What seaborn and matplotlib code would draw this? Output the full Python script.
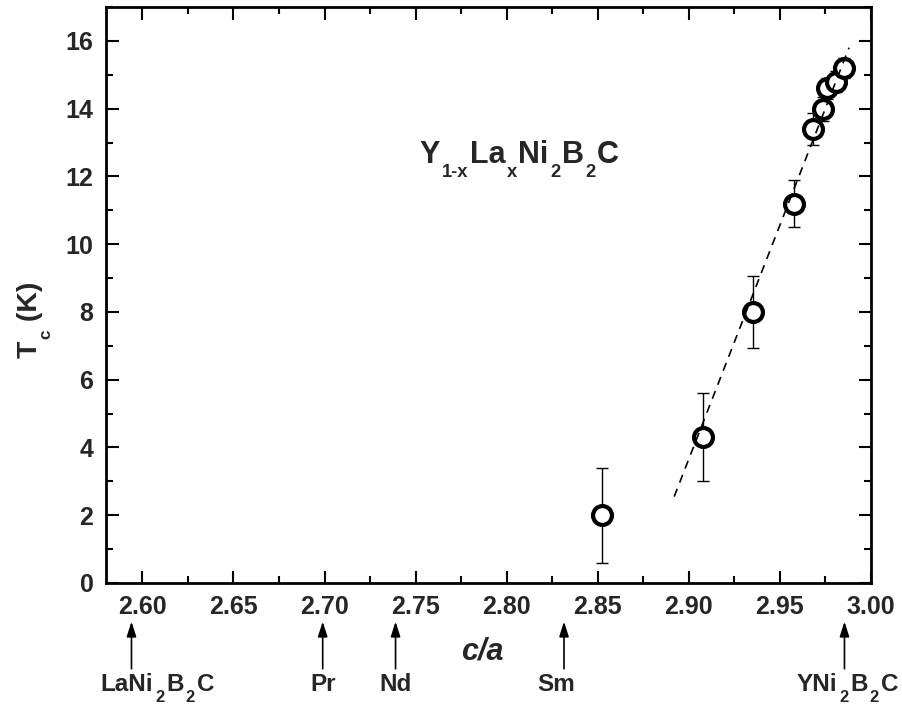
import numpy as np
import pandas as pd
import matplotlib
matplotlib.use("Agg")
import matplotlib.pyplot as plt
from matplotlib.ticker import MultipleLocator, FixedLocator
from matplotlib.transforms import offset_copy
import seaborn as sns

# ---- data ----
ca = [2.8525, 2.908, 2.935, 2.9577, 2.968, 2.9735, 2.976, 2.981, 2.9855]
tc = [2.0, 4.3, 8.0, 11.2, 13.4, 14.0, 14.6, 14.8, 15.2]
tc_err = [1.4, 1.3, 1.05, 0.68, 0.46, 0.35, 0.3, 0.3, 0.3]
fit_ca = [2.892, 2.988]
fit_tc = [2.55, 15.8]
compound_ca = [2.594, 2.699, 2.739, 2.8315, 2.9855]
compound_labels = [
    [("LaNi", False), ("2", True), ("B", False), ("2", True), ("C", False)],
    [("Pr", False)],
    [("Nd", False)],
    [("Sm", False)],
    [("YNi", False), ("2", True), ("B", False), ("2", True), ("C", False)],
]
x_ticks = [2.60, 2.65, 2.70, 2.75, 2.80, 2.85, 2.90, 2.95, 3.00]
x_ticklabels = ["2.60", "2.65", "2.70", "2.75", "2.80", "2.85", "2.90", "2.95", "3.00"]
y_ticks = [0, 2, 4, 6, 8, 10, 12, 14, 16]
title_pieces = [("Y", False), ("1-x", True), ("La", False), ("x", True), ("Ni", False),
                ("2", True), ("B", False), ("2", True), ("C", False)]
ylabel_pieces = [("T", False), ("c", True), (" (K)", False)]
xlabel_text = "c/a"

df = pd.DataFrame({"ca": ca, "tc": tc, "err": tc_err})
fit_df = pd.DataFrame({"ca": fit_ca, "tc": fit_tc})

sns.set_theme(style="ticks")
plt.rcParams["font.family"] = ["Liberation Sans", "DejaVu Sans"]
plt.rcParams["font.weight"] = "bold"

DPI = 100
fig = plt.figure(figsize=(9.02, 7.10), dpi=DPI)
ax = fig.add_axes([0.1175, 0.1789, 0.848, 0.8112])

ax.errorbar(df["ca"], df["tc"], yerr=df["err"], fmt="none", ecolor="black",
            elinewidth=1.0, capsize=4.3, capthick=1.0, zorder=2)
sns.scatterplot(data=df, x="ca", y="tc", ax=ax, s=185, marker="o",
                facecolor="white", edgecolor="black", linewidth=3, zorder=3)
sns.lineplot(data=fit_df, x="ca", y="tc", ax=ax, color="black", lw=1.2,
             linestyle=(0, (5, 4)), zorder=4)

ax.set_xlim(2.58, 3.00)
ax.set_ylim(0, 17)
ax.xaxis.set_major_locator(FixedLocator(x_ticks))
ax.set_xticklabels(x_ticklabels)
ax.xaxis.set_minor_locator(MultipleLocator(0.025))
ax.yaxis.set_major_locator(FixedLocator(y_ticks))
ax.yaxis.set_minor_locator(MultipleLocator(1))

ax.tick_params(which="both", direction="in", top=True, right=True, width=1.5,
               labelsize=18, color="black")
ax.tick_params(which="major", length=9)
ax.tick_params(which="minor", length=5)
ax.tick_params(axis="x", pad=9)
ax.tick_params(axis="y", pad=9)
for lab in ax.get_xticklabels() + ax.get_yticklabels():
    lab.set_fontweight("bold")
for sp in ax.spines.values():
    sp.set_linewidth(2)
    sp.set_color("black")

ax.set_xlabel(xlabel_text, fontsize=22, fontweight="bold", fontstyle="italic")
ax.xaxis.set_label_coords(0.492, -0.093)
ax.set_ylabel("")

renderer = fig.canvas.get_renderer()


def rich_text(x, y, pieces, trans, size, sub_scale, sub_drop, gap=1.5,
              rotation=0, extra_dx=0.0):
    """Draw text made of normal and subscript pieces, centred on (x, y) baseline."""
    items = []
    pos = 0.0
    for s, sub in pieces:
        fs = size * sub_scale if sub else size
        drop = -sub_drop * size * DPI / 72.0 if sub else 0.0
        t = ax.text(x, y, s, fontsize=fs, fontweight="bold", ha="left", va="baseline",
                    rotation=rotation, rotation_mode="anchor", transform=trans,
                    clip_on=False)
        ext = t.get_window_extent(renderer)
        w = ext.width if rotation == 0 else ext.height
        items.append((t, pos, drop))
        pos += w + gap
    total = pos - gap
    shift = total / 2.0
    for t, p, d in items:
        if rotation == 0:
            dx, dy = p - shift + extra_dx, d
        else:
            dx, dy = -d, p - shift
        t.set_transform(offset_copy(trans, fig=fig, x=dx, y=dy, units="dots"))


# formula inside the plot
rich_text(2.807, 12.39, title_pieces, ax.transData, 22, 0.6, 0.45, gap=1.5)

# y label
rich_text(-0.0907, 0.4575, ylabel_pieces, ax.transAxes, 20.5, 0.6, 0.47, gap=1.0,
          rotation=90)

# compound markers below the axis
xt = ax.get_xaxis_transform()
offsets_px = [26, 0, 0, -8, 3]
for xv, pieces, dx in zip(compound_ca, compound_labels, offsets_px):
    ax.annotate("", xy=(xv, -0.067), xytext=(xv, -0.149), xycoords=xt, textcoords=xt,
                arrowprops=dict(arrowstyle="-|>,head_length=0.75,head_width=0.24",
                                lw=1.2, color="black", shrinkA=0, shrinkB=0),
                annotation_clip=False)
    rich_text(xv, -0.187, pieces, xt, 17.5, 0.68, 0.48, gap=2.0, extra_dx=dx)

fig.savefig("out.png", dpi=DPI)
